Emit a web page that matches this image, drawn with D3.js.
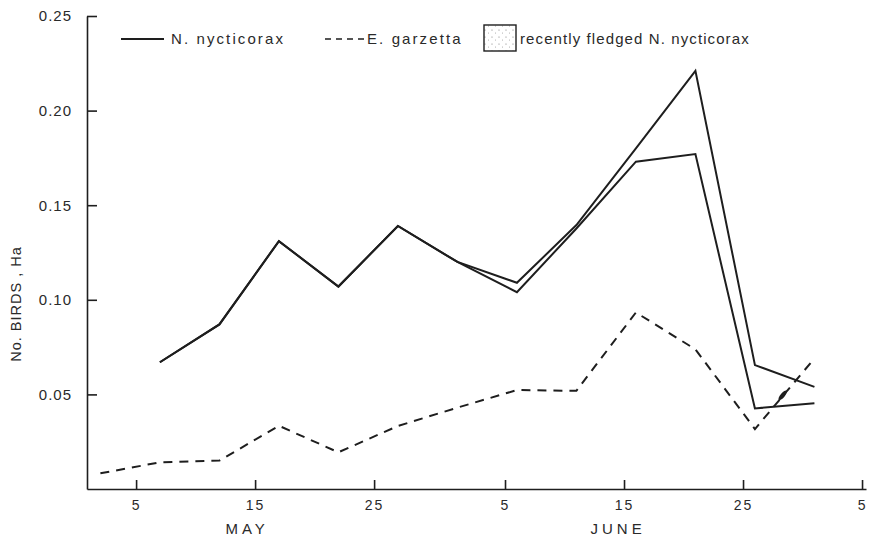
<!DOCTYPE html>
<html><head><meta charset="utf-8">
<script src="https://cdn.jsdelivr.net/npm/d3@7"></script>
<style>
html,body{margin:0;padding:0;background:#fff;}
text{font-family:"Liberation Sans",Arial,sans-serif;fill:#2a2a2a;}
</style></head>
<body><svg id="c" width="878" height="537"></svg>
<script>
// ---- data ----
const dates = ["1975-05-02","1975-05-07","1975-05-12","1975-05-17","1975-05-22","1975-05-27",
               "1975-06-01","1975-06-06","1975-06-11","1975-06-16","1975-06-21","1975-06-26","1975-07-01"];
// N. nycticorax incl. recently fledged (outer line)
const nycTotal = [null,0.067,0.087,0.131,0.107,0.139,0.120,0.109,0.1395,0.180,0.221,0.0655,0.054];
// N. nycticorax (inner line)
const nycAdult = [null,0.067,0.087,0.131,0.107,0.139,0.120,0.104,0.1377,0.173,0.177,0.0426,0.0453];
// E. garzetta
const garzetta = [0.0083,0.0141,0.0150,0.0334,0.0194,0.0333,0.043,0.0523,0.0519,0.0933,0.0738,0.0317,0.069];
const yTicks = [0.05,0.10,0.15,0.20,0.25];
const xTicks = ["1975-05-05","1975-05-15","1975-05-25","1975-06-05","1975-06-15","1975-06-25","1975-07-05"];
const months = [{label:"MAY",date:"1975-05-14T08:00"},{label:"JUNE",date:"1975-06-14T12:00"}];
const legendItems = ["N. nycticorax","E. garzetta","recently fledged N. nycticorax"];
const yTitle = "No. BIRDS , Ha";

// ---- drawing ----
const svg = d3.select("#c");
const parse = s => new Date(s.length>10 ? s+"Z" : s+"T00:00Z");
const x = d3.scaleUtc()
  .domain([new Date(Date.UTC(1975,3,30,21)), new Date(Date.UTC(1975,6,5,8))])
  .range([87, 866]);
const y = d3.scaleLinear().domain([0,0.25]).range([489,16]);

const ink = "#1e1e1e";

// y axis
const ya = svg.append("g").attr("transform","translate(87,0)")
  .call(d3.axisLeft(y).tickValues(yTicks).tickFormat(d3.format(".2f"))
        .tickSize(-10).tickSizeOuter(0).tickPadding(15));
ya.select(".domain").attr("stroke",ink).attr("stroke-width",1.6);
ya.selectAll(".tick line").attr("stroke",ink).attr("stroke-width",1.6);
ya.selectAll(".tick text").attr("font-size",15).attr("letter-spacing","1px")
  .attr("font-family","Liberation Sans, Arial, sans-serif").attr("fill","#333");

// x axis
const xa = svg.append("g").attr("transform","translate(0,489)")
  .call(d3.axisBottom(x).tickValues(xTicks.map(parse)).tickFormat(d3.utcFormat("%-d"))
        .tickSize(-9).tickSizeOuter(0).tickPadding(11));
xa.select(".domain").attr("stroke",ink).attr("stroke-width",1.6);
xa.selectAll(".tick line").attr("stroke",ink).attr("stroke-width",1.6);
xa.selectAll(".tick text").attr("font-size",14).attr("letter-spacing","2px")
  .attr("font-family","Liberation Sans, Arial, sans-serif").attr("fill","#333");

// month labels
svg.selectAll("text.month").data(months).join("text").attr("class","month")
  .attr("x",d=>x(parse(d.date))).attr("y",534).attr("text-anchor","middle")
  .attr("font-size",15).attr("letter-spacing","4px").attr("fill","#333")
  .text(d=>d.label);

// y title
svg.append("text").attr("transform","translate(21,304) rotate(-90)")
  .attr("text-anchor","middle").attr("font-size",14.5).attr("letter-spacing","1px")
  .attr("fill","#333").text(yTitle);

// lines
const mk = vals => dates.map((d,i)=>({date:parse(d), v:vals[i]}));
const line = d3.line().defined(d=>d.v!=null).x(d=>x(d.date)).y(d=>y(d.v));
svg.append("path").datum(mk(nycTotal)).attr("d",line)
  .attr("fill","none").attr("stroke",ink).attr("stroke-width",2).attr("stroke-linejoin","miter");
svg.append("path").datum(mk(nycAdult)).attr("d",line)
  .attr("fill","none").attr("stroke",ink).attr("stroke-width",2).attr("stroke-linejoin","miter");
svg.append("path").datum(mk(garzetta)).attr("d",line)
  .attr("fill","none").attr("stroke",ink).attr("stroke-width",2).attr("stroke-dasharray","9,7");

// small blot near the end (in the original drawing)
const bx = x(parse("1975-06-28T08:00")), by = y(0.0495);
svg.append("ellipse").attr("cx",bx).attr("cy",by).attr("rx",2.2).attr("ry",6)
  .attr("transform",`rotate(40,${bx},${by})`).attr("fill",ink);

// legend
const lg = svg.append("g");
lg.append("line").attr("x1",121).attr("x2",164).attr("y1",39).attr("y2",39)
  .attr("stroke",ink).attr("stroke-width",1.8);
lg.append("text").attr("x",171).attr("y",44).attr("font-size",15).attr("letter-spacing","2.1px")
  .attr("fill","#333").text(legendItems[0]);
lg.append("line").attr("x1",325).attr("x2",364).attr("y1",39).attr("y2",39)
  .attr("stroke",ink).attr("stroke-width",1.6).attr("stroke-dasharray","6,5");
lg.append("text").attr("x",367).attr("y",44).attr("font-size",15).attr("letter-spacing","2.1px")
  .attr("fill","#333").text(legendItems[1]);
const defs = svg.append("defs");
const pat = defs.append("pattern").attr("id","stip").attr("width",7).attr("height",7)
  .attr("patternUnits","userSpaceOnUse");
pat.append("circle").attr("cx",2).attr("cy",2).attr("r",0.6).attr("fill","#777");
pat.append("circle").attr("cx",5.5).attr("cy",5).attr("r",0.5).attr("fill","#999");
lg.append("rect").attr("x",484).attr("y",25).attr("width",32).attr("height",26)
  .attr("fill","url(#stip)").attr("stroke",ink).attr("stroke-width",1.4);
lg.append("text").attr("x",520).attr("y",44).attr("font-size",15).attr("letter-spacing","1.1px")
  .attr("fill","#333").text(legendItems[2]);
</script></body></html>
